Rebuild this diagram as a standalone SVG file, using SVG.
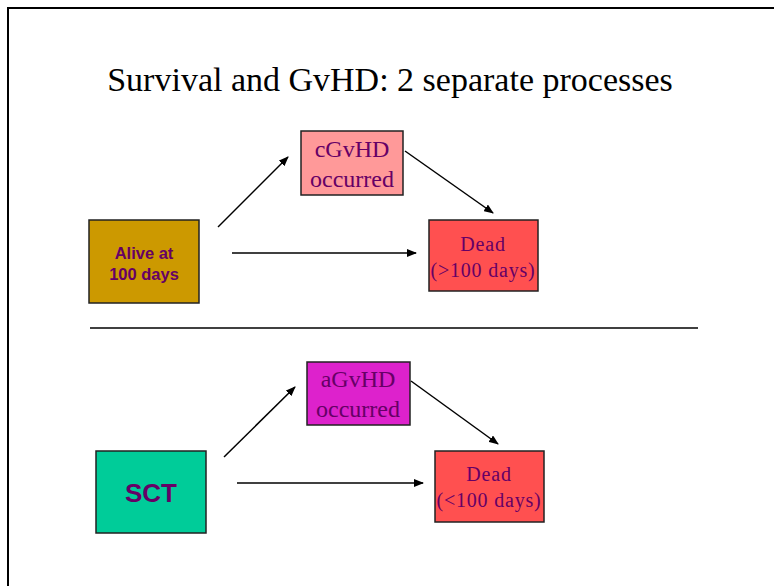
<svg xmlns="http://www.w3.org/2000/svg" width="774" height="586" viewBox="0 0 774 586">
<defs>
<marker id="ah" markerWidth="10" markerHeight="8" refX="9" refY="4" orient="auto" markerUnits="userSpaceOnUse">
<path d="M0,0 L10,4 L0,8 Z" fill="#000"/>
</marker>
<style>
.box{stroke:#222;stroke-width:1.5}
.ser{font-family:"Liberation Serif","Times New Roman",serif;fill:#660066;text-anchor:middle}
.san{font-family:"Liberation Sans",Arial,sans-serif;font-weight:bold;fill:#660066;text-anchor:middle}
.con line{stroke:#000;stroke-width:1.5;marker-end:url(#ah)}
</style>
</defs>
<rect width="774" height="586" fill="#fff"/>
<path d="M8,600 L8,8 L790,8" fill="none" stroke="#000" stroke-width="2"/>
<text x="390" y="91" class="ser" style="fill:#000;font-size:34px">Survival and GvHD: 2 separate processes</text>
<line x1="90" y1="328" x2="698" y2="328" stroke="#000" stroke-width="1.5"/>
<g id="alive"><rect class="box" x="89" y="220" width="110" height="83" fill="#CC9900"/>
<text class="san" x="144" y="259" font-size="16.5">Alive at</text>
<text class="san" x="144" y="280" font-size="16.5">100 days</text></g>
<g id="cgvhd"><rect class="box" x="301" y="131" width="102" height="64" fill="#FF9999"/>
<text class="ser" x="352" y="157" font-size="24">cGvHD</text>
<text class="ser" x="352" y="187" font-size="24">occurred</text></g>
<g id="dead1"><rect class="box" x="429" y="220" width="109" height="71" fill="#FF5050"/>
<text class="ser" x="483" y="251" font-size="20" letter-spacing="0.8">Dead</text>
<text class="ser" x="483" y="277" font-size="20" letter-spacing="0.8">(&gt;100 days)</text></g>
<g id="sct"><rect class="box" x="96" y="451" width="110" height="82" fill="#00CC99"/>
<text class="san" x="151" y="502" font-size="26">SCT</text></g>
<g id="agvhd"><rect class="box" x="307" y="362" width="103" height="63" fill="#DD22CC"/>
<text class="ser" x="358" y="387" font-size="24">aGvHD</text>
<text class="ser" x="358" y="417" font-size="24">occurred</text></g>
<g id="dead2"><rect class="box" x="435" y="451" width="109" height="71" fill="#FF5050"/>
<text class="ser" x="489" y="481" font-size="20" letter-spacing="0.8">Dead</text>
<text class="ser" x="489" y="507" font-size="20" letter-spacing="0.8">(&lt;100 days)</text></g>
<g class="con" id="connectors">
<line x1="218" y1="227" x2="288" y2="157"/>
<line x1="405" y1="151" x2="493" y2="213"/>
<line x1="232" y1="253" x2="416" y2="253"/>
<line x1="224" y1="457" x2="295" y2="387"/>
<line x1="411" y1="381" x2="498" y2="444"/>
<line x1="237" y1="483" x2="423" y2="483"/>
</g>
</svg>
